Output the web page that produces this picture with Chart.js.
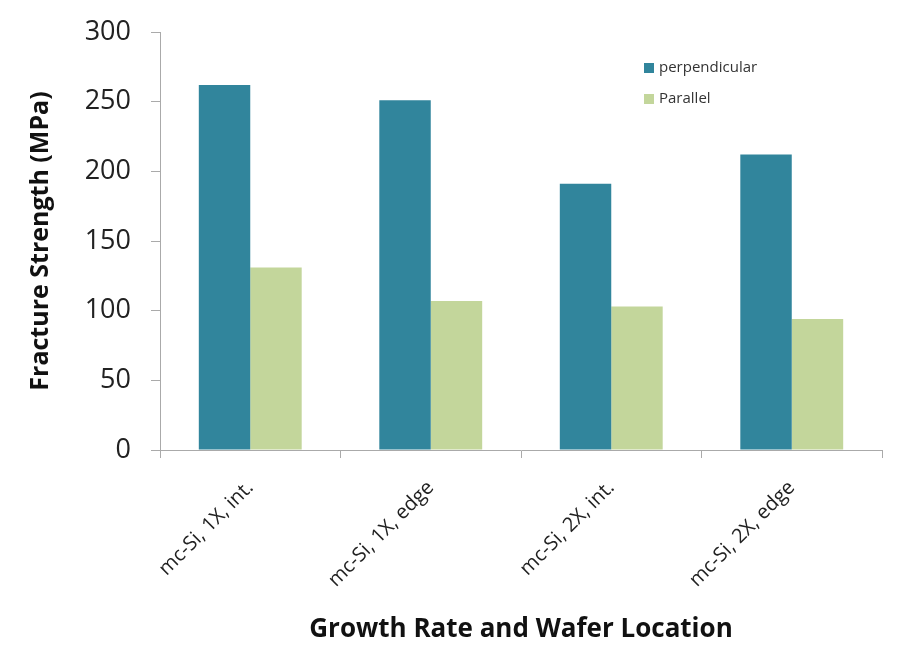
<!DOCTYPE html>
<html>
<head>
<meta charset="utf-8">
<script src="https://cdn.jsdelivr.net/npm/chart.js@4"></script>
<style>
  html, body { margin: 0; padding: 0; background: #fff; }
  #wrap { width: 903px; height: 657px; position: relative; }
</style>
</head>
<body>
<div id="wrap"><canvas id="c" width="903" height="657"></canvas></div>
<script>
// Fracture strength of mc-Si wafers by growth rate and wafer location
const categories = ['mc-Si, 1X, int.', 'mc-Si, 1X, edge', 'mc-Si, 2X, int.', 'mc-Si, 2X, edge'];
const perpendicular = [262, 251, 191, 212];
const parallel = [131, 107, 103, 94];
const yTicks = [0, 50, 100, 150, 200, 250, 300];

const FONT = "'Open Sans', 'DejaVu Sans', sans-serif";

// Legend drawn inside the plot area, upper right
const insideLegend = {
  id: 'insideLegend',
  afterDraw(chart) {
    const ctx = chart.ctx;
    ctx.save();
    ctx.font = '15px ' + FONT;
    ctx.textBaseline = 'middle';
    chart.data.datasets.forEach((ds, i) => {
      const y = 68 + i * 31;
      ctx.fillStyle = ds.backgroundColor;
      ctx.fillRect(644, y - 5, 10, 10);
      ctx.fillStyle = '#333';
      ctx.fillText(ds.label, 659, y);
    });
    ctx.restore();
  }
};

new Chart(document.getElementById('c'), {
  type: 'bar',
  data: {
    labels: categories,
    datasets: [
      { label: 'perpendicular', data: perpendicular, backgroundColor: '#31859C' },
      { label: 'Parallel', data: parallel, backgroundColor: '#C3D69B' }
    ]
  },
  options: {
    responsive: false,
    animation: false,
    layout: { padding: { top: 32, right: 21, bottom: 12, left: 0 } },
    datasets: { bar: { categoryPercentage: 0.57, barPercentage: 1.0 } },
    plugins: {
      legend: { display: false },
      tooltip: { enabled: false }
    },
    scales: {
      x: {
        grid: { drawOnChartArea: false, tickLength: 8, color: '#aaa', offset: true },
        border: { color: '#aaa' },
        ticks: {
          minRotation: 45, maxRotation: 45, padding: 18,
          color: '#222', font: { family: FONT, size: 20 }
        },
        title: {
          display: true, text: 'Growth Rate and Wafer Location',
          color: '#111', font: { family: FONT, size: 26, weight: 'bold' },
          padding: { top: 10, bottom: 0 }
        },
        afterFit(scale) { scale.height = 657 - 450 - 12; }
      },
      y: {
        min: 0, max: 300,
        afterBuildTicks(scale) { scale.ticks = yTicks.map(v => ({ value: v })); },
        grid: { drawOnChartArea: false, tickLength: 9, color: '#aaa' },
        border: { color: '#aaa' },
        ticks: {
          padding: 20, color: '#222', font: { family: FONT, size: 27 }
        },
        title: {
          display: true, text: 'Fracture Strength (MPa)',
          color: '#111', font: { family: FONT, size: 25, weight: 'bold' },
          padding: { top: 26, bottom: 0 }
        },
        afterFit(scale) {
          scale.width = 160;
          scale.paddingTop = 0;
          scale.paddingBottom = 0;
        }
      }
    }
  },
  plugins: [insideLegend]
});
</script>
</body>
</html>
